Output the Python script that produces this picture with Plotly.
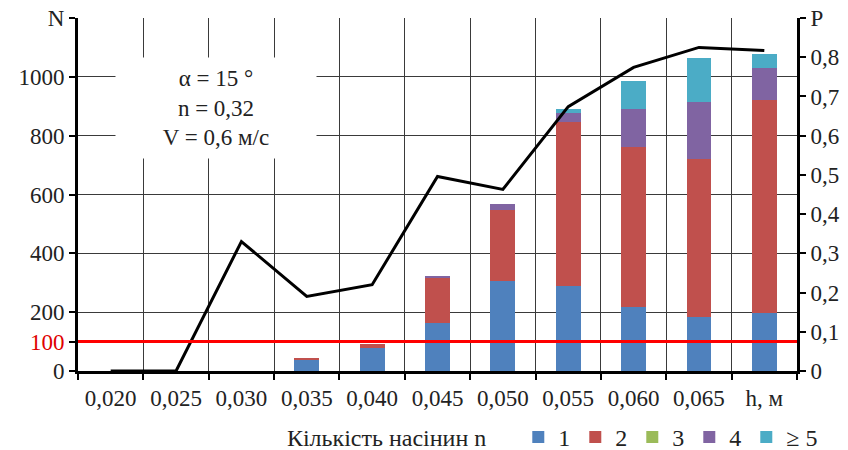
import plotly.graph_objects as go

categories = ["0,020", "0,025", "0,030", "0,035", "0,040", "0,045",
              "0,050", "0,055", "0,060", "0,065", "0,070"]
tick_labels = ["0,020", "0,025", "0,030", "0,035", "0,040", "0,045",
               "0,050", "0,055", "0,060", "0,065", "h, м"]

n1 = [0, 0, 0, 38, 78, 163, 305, 288, 217, 183, 197]
n2 = [0, 0, 0, 5, 14, 156, 244, 559, 543, 539, 725]
n3 = [0, 0, 0, 0, 0, 0, 0, 0, 0, 0, 0]
n4 = [0, 0, 0, 0, 0, 3, 20, 31, 132, 193, 109]
n5 = [0, 0, 0, 0, 0, 0, 0, 14, 94, 149, 47]
P = [0, 0, 0.33, 0.19, 0.22, 0.496, 0.463, 0.674, 0.774, 0.825, 0.817]

series = [("1", n1, "#4F81BD"), ("2", n2, "#C0504D"), ("3", n3, "#9BBB59"),
          ("4", n4, "#8064A2"), ("≥ 5", n5, "#4BACC6")]

threshold = 100

y_tickvals = [0, 100, 200, 400, 600, 800, 1000, 1200]
y_ticktext = ["0", "<span style='color:#E00000'>100</span>", "200", "400",
              "600", "800", "1000", "N"]
y2_tickvals = [0, 0.1, 0.2, 0.3, 0.4, 0.5, 0.6, 0.7, 0.8, 0.9]
y2_ticktext = ["0", "0,1", "0,2", "0,3", "0,4", "0,5", "0,6", "0,7", "0,8", "P"]

FONT = "Liberation Serif"
TXT = "#222222"
TICK = 23

fig = go.Figure()
for name, vals, color in series:
    fig.add_trace(go.Bar(x=categories, y=vals, name=name, marker_color=color,
                         marker_line_width=0, yaxis="y"))

fig.add_trace(go.Scatter(x=categories, y=P, mode="lines", yaxis="y2",
                         line=dict(color="black", width=3), showlegend=False))

fig.add_shape(type="line", xref="paper", x0=0, x1=1, yref="y",
              y0=threshold, y1=threshold, line=dict(color="#FF0000", width=3),
              layer="above")

fig.add_annotation(xref="paper", yref="paper", x=0.192, y=0.746,
                   xanchor="center", yanchor="middle",
                   text="α = 15 °<br>n = 0,32<br>V = 0,6 м/с", showarrow=False,
                   bgcolor="white", font=dict(family=FONT, size=23, color=TXT),
                   width=196, height=96, align="center", borderpad=2)

fig.update_layout(
    width=848, height=450,
    margin=dict(l=78, r=51, t=18, b=79, autoexpand=False),
    paper_bgcolor="white", plot_bgcolor="white",
    barmode="stack", bargap=0.62,
    font=dict(family=FONT, size=TICK, color=TXT),
    xaxis=dict(type="category", tickson="boundaries", ticks="outside",
               ticklen=6, tickwidth=2, tickcolor="black",
               tickvals=categories, ticktext=tick_labels,
               showgrid=True, gridcolor="#3a3a3a", gridwidth=1,
               showline=True, linecolor="black", linewidth=3,
               tickfont=dict(family=FONT, size=TICK, color=TXT),
               ticklabelstandoff=4, automargin=False,
               range=[-0.5, 10.5]),
    yaxis=dict(range=[0, 1200], tickvals=y_tickvals, ticktext=y_ticktext,
               ticks="outside", ticklen=6, tickwidth=2, tickcolor="black",
               showgrid=True, gridcolor="#3a3a3a", gridwidth=1,
               showline=True, linecolor="black", linewidth=3, zeroline=False,
               automargin=False, ticklabeloverflow="allow",
               tickfont=dict(family=FONT, size=TICK, color=TXT)),
    yaxis2=dict(range=[0, 0.9], overlaying="y", side="right",
                tickvals=y2_tickvals, ticktext=y2_ticktext,
                ticks="outside", ticklen=6, tickwidth=2, tickcolor="black",
                showgrid=False, showline=True, linecolor="black", linewidth=3,
                zeroline=False, automargin=False, ticklabeloverflow="allow",
                tickfont=dict(family=FONT, size=TICK, color=TXT)),
    legend=dict(orientation="h", xref="container", yref="container",
                x=0.336, xanchor="left", y=0.028, yanchor="middle",
                traceorder="normal",
                title=dict(text="Кількість насінин n\u00a0\u00a0\u00a0\u00a0", side="left",
                           font=dict(family=FONT, size=24, color=TXT)),
                font=dict(family=FONT, size=24, color=TXT),
                itemwidth=30, bgcolor="rgba(0,0,0,0)"),
    showlegend=True,
)

fig.write_html("out.html", config={"displayModeBar": False},
               post_script="document.body.style.margin='0';")
